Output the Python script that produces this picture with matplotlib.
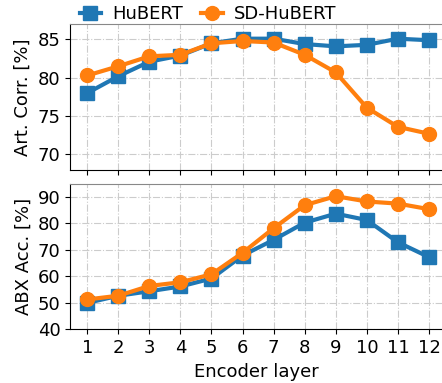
import matplotlib.pyplot as plt
import numpy as np

layers = np.arange(1, 13)

# Articulatory correlation [%]
art_hubert = [78.0, 80.2, 82.1, 82.9, 84.5, 85.1, 85.1, 84.4, 84.1, 84.3, 85.1, 84.9]
art_sd = [80.3, 81.5, 82.8, 83.0, 84.5, 84.8, 84.6, 83.0, 80.7, 76.1, 73.6, 72.7]

# ABX accuracy [%]
abx_hubert = [50.0, 52.7, 54.4, 56.2, 59.2, 67.9, 73.8, 80.3, 83.7, 81.3, 72.9, 67.3]
abx_sd = [51.3, 52.7, 56.4, 57.8, 60.8, 68.9, 78.2, 86.9, 90.3, 88.3, 87.5, 85.4]

plt.rcParams['font.size'] = 13

fig, (ax1, ax2) = plt.subplots(2, 1, figsize=(4.42, 3.83), dpi=100, sharex=True)
fig.subplots_adjust(left=0.159, right=1.0, top=0.937, bottom=0.140, hspace=0.096)

style = dict(lw=3, ms=10)
ax1.plot(layers, art_hubert, marker='s', color='#1f77b4', label='HuBERT', **style)
ax1.plot(layers, art_sd, marker='o', color='#ff7f0e', label='SD-HuBERT', **style)
ax2.plot(layers, abx_hubert, marker='s', color='#1f77b4', **style)
ax2.plot(layers, abx_sd, marker='o', color='#ff7f0e', **style)

ax1.set_ylim(68, 87)
ax1.set_yticks([70, 75, 80, 85])
ax2.set_ylim(40, 95)
ax2.set_yticks([40, 50, 60, 70, 80, 90])
ax2.set_xticks(layers)
ax2.set_xlim(0.455, 12.42)

ax1.set_ylabel('Art. Corr. [%]')
ax2.set_ylabel('ABX Acc. [%]')
ax2.set_xlabel('Encoder layer')

for ax in (ax1, ax2):
    ax.grid(True, linestyle='-.', color='#cccccc', lw=0.8)
    ax.spines['top'].set_color('#888888')
    ax.spines['right'].set_visible(False)

fig.legend(loc='upper center', bbox_to_anchor=(0.47, 1.01), ncol=2, frameon=False,
           handlelength=1.2, columnspacing=1.0, handletextpad=0.6, borderaxespad=0.1)

fig.savefig('out.png')
